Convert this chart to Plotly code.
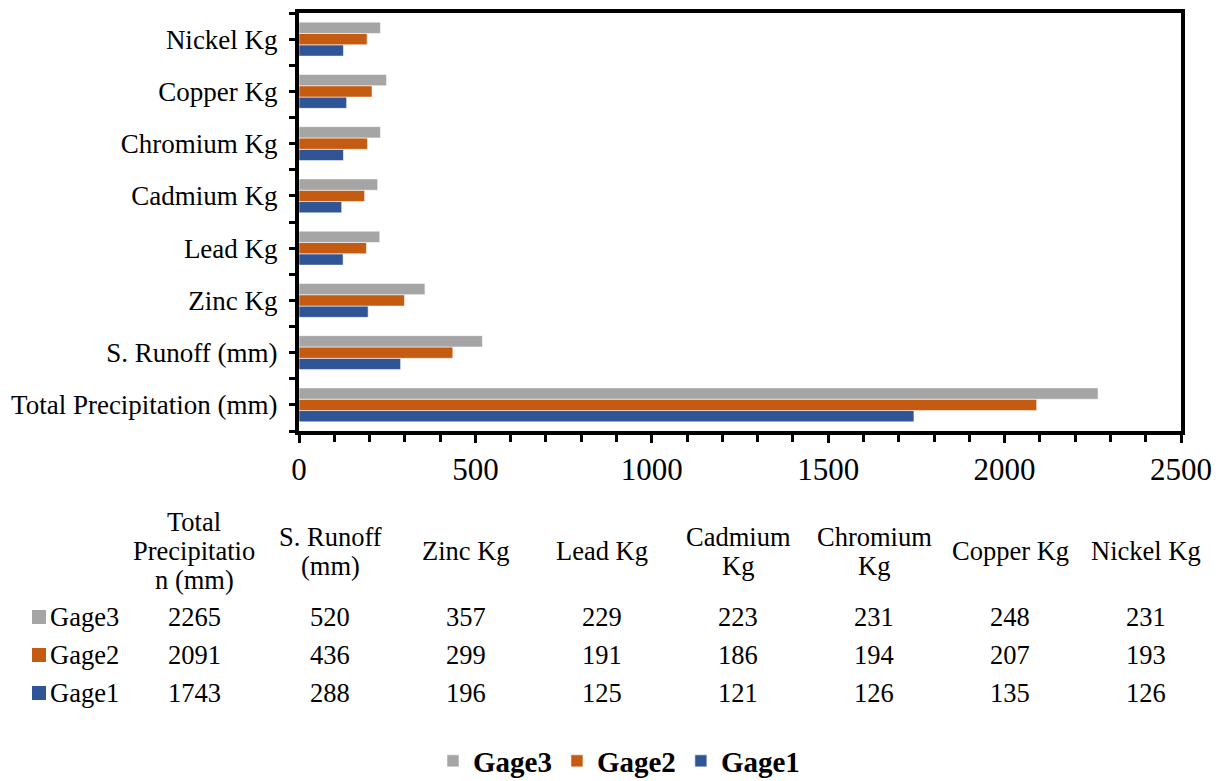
import plotly.graph_objects as go

# ---------------- data ----------------
categories = ["Total Precipitation (mm)", "S. Runoff (mm)", "Zinc Kg", "Lead Kg",
              "Cadmium Kg", "Chromium Kg", "Copper Kg", "Nickel Kg"]
table_headers = [["Total", "Precipitatio", "n (mm)"], ["S. Runoff", "(mm)"], ["Zinc Kg"],
                 ["Lead Kg"], ["Cadmium", "Kg"], ["Chromium", "Kg"], ["Copper Kg"], ["Nickel Kg"]]
gage1 = [1743, 288, 196, 125, 121, 126, 135, 126]
gage2 = [2091, 436, 299, 191, 186, 194, 207, 193]
gage3 = [2265, 520, 357, 229, 223, 231, 248, 231]
series_names = ["Gage1", "Gage2", "Gage3"]
x_ticks = [0, 500, 1000, 1500, 2000, 2500]

# ---------------- style ----------------
colors = {"Gage1": "#2F5597", "Gage2": "#C55A11", "Gage3": "#A5A5A5"}
FONT = "Liberation Serif, Times New Roman, serif"
W, H = 1223, 781
ML, MR, MT, MB = 299, 42, 13, 350
PW, PH = W - ML - MR, H - MT - MB


def px_x(px):
    return (px - ML) / PW


def px_y(py):
    return (H - MB - py) / PH


series_values = {"Gage1": gage1, "Gage2": gage2, "Gage3": gage3}
pos = list(range(len(categories)))

fig = go.Figure()
for name in series_names:
    fig.add_trace(go.Bar(
        x=series_values[name], y=pos, orientation="h", name=name,
        marker=dict(color=colors[name], line=dict(color="rgba(255,255,255,0.55)", width=1)),
    ))

# ---------------- data table (annotations) ----------------
TABLE_FS = 26.5
col_px = [194 + 136 * i for i in range(len(categories))]
line_gap = 29
header_center = 551
annotations = []
for cx, lines in zip(col_px, table_headers):
    n = len(lines)
    for k, t in enumerate(lines):
        py = header_center + (k - (n - 1) / 2) * line_gap
        annotations.append(dict(x=px_x(cx), y=px_y(py), xref="paper", yref="paper",
                                text=t, showarrow=False, xanchor="center", yanchor="middle",
                                font=dict(family=FONT, size=TABLE_FS, color="black")))

row_py = {"Gage3": 617, "Gage2": 655, "Gage1": 693}
shapes = []
for name in ["Gage3", "Gage2", "Gage1"]:
    py = row_py[name]
    shapes.append(dict(type="rect", xref="paper", yref="paper",
                       x0=px_x(32), x1=px_x(46), y0=px_y(py + 7), y1=px_y(py - 7),
                       fillcolor=colors[name], line=dict(width=0)))
    annotations.append(dict(x=px_x(48), y=px_y(py), xref="paper", yref="paper",
                            text=name, showarrow=False, xanchor="left", yanchor="middle",
                            font=dict(family=FONT, size=TABLE_FS, color="black")))
    for cx, v in zip(col_px, series_values[name]):
        annotations.append(dict(x=px_x(cx), y=px_y(py), xref="paper", yref="paper",
                                text=str(v), showarrow=False, xanchor="center", yanchor="middle",
                                font=dict(family=FONT, size=TABLE_FS, color="black")))

fig.update_layout(
    width=W, height=H,
    margin=dict(l=ML, r=MR, t=MT, b=MB, autoexpand=False),
    paper_bgcolor="white", plot_bgcolor="white",
    barmode="group", bargap=0.35, bargroupgap=0,
    font=dict(family=FONT, color="black"),
    showlegend=True,
    legend=dict(orientation="h", traceorder="reversed",
                x=px_x(619), xanchor="center", y=px_y(761), yanchor="middle",
                font=dict(family=FONT, size=29, color="black", weight="bold"),
                itemwidth=30, bgcolor="rgba(0,0,0,0)"),
    annotations=annotations,
    shapes=shapes,
)

fig.update_xaxes(
    range=[0, 2500], tickmode="array", tickvals=x_ticks, ticktext=[str(t) for t in x_ticks],
    showgrid=False, zeroline=False, automargin=False,
    showline=True, linewidth=4, linecolor="black", mirror=True,
    ticks="outside", ticklen=8, tickwidth=3, tickcolor="black",
    ticklabelstandoff=0,
    tickfont=dict(family=FONT, size=31, color="black"),
    minor=dict(tickmode="linear", tick0=0, dtick=100, ticks="outside",
               ticklen=7, tickwidth=3, tickcolor="black", showgrid=False),
)
fig.update_yaxes(
    range=[-0.5, len(categories) - 0.5], tickmode="array", tickvals=pos, ticktext=categories,
    showgrid=False, zeroline=False, automargin=False,
    showline=True, linewidth=4, linecolor="black", mirror=True,
    ticks="outside", ticklen=6, tickwidth=3, tickcolor="black",
    ticklabelstandoff=6,
    tickfont=dict(family=FONT, size=27, color="black"),
    minor=dict(tickmode="array", tickvals=[p - 0.5 for p in pos] + [len(categories) - 0.5],
               ticks="outside", ticklen=6, tickwidth=3, tickcolor="black", showgrid=False),
)

fig.write_html("out.html", config={"displayModeBar": False},
               post_script="document.body.style.margin='0';document.body.style.overflow='hidden';")
